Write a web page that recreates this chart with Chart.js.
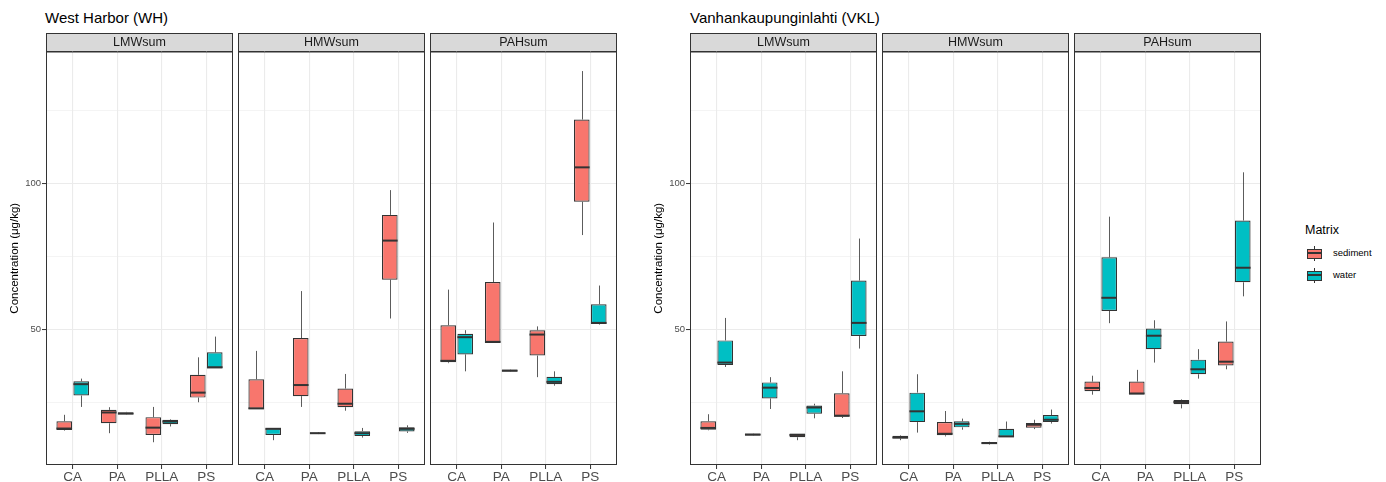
<!DOCTYPE html>
<html>
<head>
<meta charset="utf-8">
<script src="https://cdn.jsdelivr.net/npm/chart.js@4.4.1/dist/chart.umd.min.js"></script>
<style>
  body { margin: 0; background: #fff; font-family: "Liberation Sans", Arial, sans-serif; }
  #wrap { position: relative; width: 1386px; height: 482px; overflow: hidden; }
  .site { position: absolute; top: 10px; font-size: 15px; line-height: 1; color: #000; white-space: nowrap; }
  .pane { position: absolute; top: 33px; }
  #legend { position: absolute; left: 1305px; top: 224px; }
  #legend .ttl { font-size: 12.5px; line-height: 1; color: #000; margin-bottom: 8px; }
  #legend .row { position: relative; height: 22px; }
  #legend .key { position: absolute; left: 1px; top: 0; width: 17px; height: 17px; }
  #legend .wh { position: absolute; left: 8px; top: 1px; width: 1px; height: 15px; background: #333; }
  #legend .bx { position: absolute; left: 1px; top: 4px; width: 13px; height: 8px; border: 1px solid #333; }
  #legend .md { position: absolute; left: 1px; top: 7.5px; width: 15px; height: 2px; background: #333; }
  #legend .lbl { position: absolute; left: 28px; top: 3px; font-size: 9.5px; line-height: 1; color: #000; }
</style>
</head>
<body>
<div id="wrap">
  <div class="site" style="left:45px">West Harbor (WH)</div>
  <div class="site" style="left:690px">Vanhankaupunginlahti (VKL)</div>
  <div id="legend">
    <div class="ttl">Matrix</div>
    <div class="row"><div class="key"><div class="wh"></div><div class="bx" style="background:#F8766D"></div><div class="md"></div></div><div class="lbl">sediment</div></div>
    <div class="row"><div class="key"><div class="wh"></div><div class="bx" style="background:#00BFC4"></div><div class="md"></div></div><div class="lbl">water</div></div>
  </div>
</div>
<script>
const facets = ['LMWsum', 'HMWsum', 'PAHsum'];
const categories = ['CA', 'PA', 'PLLA', 'PS'];
const yMajor = [50, 100];
const yMinor = [25, 75, 125];

// each entry: [min, q1, median, q3, max] per category
const whLMWsediment = [[15.3, 15.5, 16.0, 18.5, 20.7], [14.4, 17.8, 21.5, 22.4, 23.3], [11.3, 13.8, 16.3, 19.9, 23.4], [25.0, 26.6, 28.3, 34.4, 40.4]];
const whLMWwater = [[23.4, 27.3, 31.2, 32.2, 33.1], [20.8, 20.9, 21.1, 21.6, 21.7], [16.7, 17.5, 18.4, 19.0, 19.2], [36.6, 36.6, 37.0, 42.1, 47.5]];
const whHMWsediment = [[22.7, 22.7, 22.9, 32.9, 42.6], [23.4, 27.1, 30.9, 47.0, 63.1], [22.1, 23.3, 24.5, 29.7, 34.7], [53.7, 67.0, 80.4, 89.2, 97.7]];
const whHMWwater = [[12.0, 13.8, 15.9, 16.1, 16.1], [14.1, 14.2, 14.4, 14.6, 14.8], [12.9, 13.4, 14.4, 15.1, 16.2], [14.5, 15.0, 15.9, 16.4, 17.1]];
const whPAHsediment = [[38.4, 38.7, 39.2, 51.4, 63.6], [45.3, 45.3, 45.7, 66.2, 86.6], [33.6, 41.0, 48.2, 49.7, 51.0], [82.3, 93.7, 105.5, 121.9, 138.5]];
const whPAHwater = [[35.6, 41.4, 47.3, 48.5, 49.7], [35.4, 35.5, 35.8, 36.2, 36.3], [30.7, 31.2, 32.0, 33.7, 35.6], [51.6, 51.8, 52.2, 58.6, 65.0]];
const vklLMWsediment = [[15.4, 15.6, 16.2, 18.5, 20.9], [13.5, 13.6, 13.9, 14.3, 14.4], [12.0, 13.0, 13.8, 14.3, 14.3], [19.6, 20.0, 20.4, 28.1, 35.6]];
const vklLMWwater = [[37.1, 37.8, 38.6, 46.2, 53.9], [22.7, 26.3, 30.0, 31.8, 33.6], [19.5, 21.1, 23.2, 23.9, 24.5], [43.4, 47.7, 52.2, 66.7, 81.1]];
const vklHMWsediment = [[12.0, 12.6, 12.9, 13.5, 13.7], [13.3, 13.7, 14.2, 18.2, 22.0], [10.5, 10.7, 11.0, 11.4, 11.5], [15.8, 16.3, 17.3, 17.9, 19.0]];
const vklHMWwater = [[14.6, 18.2, 21.9, 28.3, 34.6], [15.6, 16.4, 17.6, 18.5, 19.4], [13.1, 13.1, 13.3, 15.9, 18.4], [17.7, 18.2, 19.0, 20.6, 22.5]];
const vklPAHsediment = [[27.6, 28.8, 29.9, 32.1, 34.1], [27.7, 27.7, 28.0, 32.1, 36.1], [22.9, 24.3, 25.1, 25.8, 26.0], [36.3, 37.6, 38.9, 45.8, 52.7]];
const vklPAHwater = [[52.1, 56.3, 60.8, 74.7, 88.6], [38.6, 43.2, 47.8, 50.3, 53.1], [33.1, 34.6, 36.3, 39.6, 43.2], [61.3, 66.1, 71.1, 87.3, 103.8]];

const panels = [
  { left: 46, facet: 0, sed: whLMWsediment, wat: whLMWwater, yAxis: true },
  { left: 238, facet: 1, sed: whHMWsediment, wat: whHMWwater },
  { left: 430, facet: 2, sed: whPAHsediment, wat: whPAHwater },
  { left: 690, facet: 0, sed: vklLMWsediment, wat: vklLMWwater, yAxis: true },
  { left: 882, facet: 1, sed: vklHMWsediment, wat: vklHMWwater },
  { left: 1074, facet: 2, sed: vklPAHsediment, wat: vklPAHwater }
];

const AXIS_W = 46, PANEL_W = 188, H = 449;

// whiskers under the boxes, medians over them, strip + panel border
const boxPlugin = {
  id: 'boxes',
  beforeDraw(chart) {
    const { ctx, chartArea: a } = chart;
    ctx.save();
    ctx.fillStyle = '#d9d9d9';
    ctx.fillRect(a.left, 0, a.right - a.left, a.top);
    ctx.strokeStyle = '#333';
    ctx.lineWidth = 1;
    ctx.strokeRect(a.left + 0.5, 0.5, a.right - a.left - 1, a.top - 0.5);
    ctx.restore();
  },
  beforeDatasetsDraw(chart) {
    const { ctx, scales: { y } } = chart;
    ctx.save();
    ctx.strokeStyle = 'rgba(51,51,51,0.8)';
    ctx.lineWidth = 1;
    chart.data.datasets.forEach((ds, d) => {
      chart.getDatasetMeta(d).data.forEach((el, i) => {
        const s = ds.stats[i];
        const x = Math.round(el.x) + 0.5;
        ctx.beginPath();
        ctx.moveTo(x, y.getPixelForValue(s[4]));
        ctx.lineTo(x, y.getPixelForValue(s[3]));
        ctx.moveTo(x, y.getPixelForValue(s[1]));
        ctx.lineTo(x, y.getPixelForValue(s[0]));
        ctx.stroke();
      });
    });
    ctx.restore();
  },
  afterDatasetsDraw(chart) {
    const { ctx, scales: { y } } = chart;
    ctx.save();
    ctx.strokeStyle = '#333';
    ctx.lineWidth = 2;
    chart.data.datasets.forEach((ds, d) => {
      chart.getDatasetMeta(d).data.forEach((el, i) => {
        const yy = y.getPixelForValue(ds.stats[i][2]);
        ctx.beginPath();
        ctx.moveTo(el.x - el.width / 2, yy);
        ctx.lineTo(el.x + el.width / 2, yy);
        ctx.stroke();
      });
    });
    ctx.restore();
  },
  afterDraw(chart) {
    const { ctx, chartArea: a } = chart;
    ctx.save();
    ctx.strokeStyle = '#333';
    ctx.lineWidth = 1;
    ctx.strokeRect(a.left + 0.5, a.top + 0.5, a.right - a.left - 1, a.bottom - a.top - 1);
    ctx.restore();
  }
};

function boxSet(label, stats, color) {
  return {
    label,
    stats,
    data: stats.map((s, i) => ({ x: i, y: [s[1], s[3]] })),
    backgroundColor: color,
    borderColor: '#333',
    borderWidth: 1.2,
    borderSkipped: false,
    categoryPercentage: 0.762,
    barPercentage: 0.92
  };
}

const wrap = document.getElementById('wrap');

panels.forEach(p => {
  const w = (p.yAxis ? AXIS_W : 0) + PANEL_W;
  const cv = document.createElement('canvas');
  cv.width = w;
  cv.height = H;
  cv.className = 'pane';
  cv.style.left = (p.left - (p.yAxis ? AXIS_W : 0)) + 'px';
  cv.style.width = w + 'px';
  cv.style.height = H + 'px';
  wrap.appendChild(cv);

  new Chart(cv, {
    type: 'bar',
    data: {
      datasets: [boxSet('sediment', p.sed, '#F8766D'), boxSet('water', p.wat, '#00BFC4')]
    },
    options: {
      responsive: false,
      animation: false,
      layout: { padding: { top: 0, right: 1, bottom: 0, left: 0 } },
      plugins: {
        legend: { display: false },
        tooltip: { enabled: false },
        title: {
          display: true,
          fullSize: false,
          text: facets[p.facet],
          color: '#1a1a1a',
          font: { family: 'Liberation Sans', size: 12.5, weight: 'normal', lineHeight: 1.08 },
          padding: { top: 3, bottom: 2 }
        }
      },
      scales: {
        x: {
          type: 'linear',
          min: -0.6,
          max: 3.6,
          offset: false,
          afterBuildTicks: s => { s.ticks = categories.map((c, i) => ({ value: i })); },
          afterFit: s => { s.height = 17; },
          grid: { color: '#ebebeb', lineWidth: 1.1, offset: false, tickColor: '#333', tickLength: 4, tickWidth: 1 },
          border: { display: false },
          ticks: {
            padding: 0,
            maxRotation: 0,
            autoSkip: false,
            color: '#4d4d4d',
            font: { family: 'Liberation Sans', size: 13.5 },
            callback: v => categories[v]
          }
        },
        y: {
          min: 3.5,
          max: 145.2,
          afterBuildTicks: s => { s.ticks = yMinor.concat(yMajor).sort((a, b) => a - b).map(v => ({ value: v })); },
          afterFit: s => { s.width = p.yAxis ? AXIS_W : 0; },
          grid: {
            color: '#ebebeb',
            lineWidth: c => (c.tick && yMajor.includes(c.tick.value) ? 1.1 : 0.55),
            drawTicks: !!p.yAxis,
            tickLength: 4,
            tickWidth: 1,
            tickColor: c => (c.tick && yMajor.includes(c.tick.value) ? '#333' : 'rgba(0,0,0,0)')
          },
          border: { display: false },
          title: {
            display: !!p.yAxis,
            text: 'Concentration (μg/kg)',
            color: '#000',
            font: { family: 'Liberation Sans', size: 11.5 },
            padding: { top: 8, bottom: 0 }
          },
          ticks: {
            display: !!p.yAxis,
            padding: 1,
            color: '#4d4d4d',
            font: { family: 'Liberation Sans', size: 9.5 },
            callback: v => (yMajor.includes(v) ? String(v) : '')
          }
        }
      }
    },
    plugins: [boxPlugin]
  });
});
</script>
</body>
</html>
